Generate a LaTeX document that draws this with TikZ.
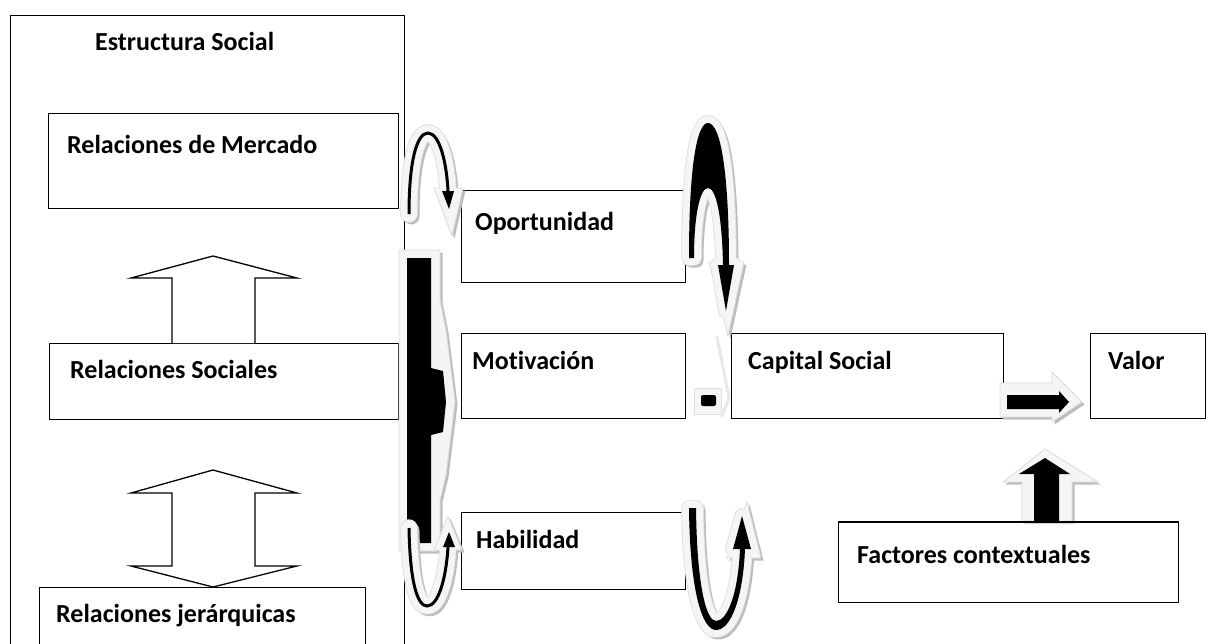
\documentclass[tikz,border=0pt]{standalone}
\usepackage{fontspec}
\setmainfont{Carlito}[Ligatures=NoCommon]
\begin{document}
\begin{tikzpicture}[x=1pt,y=-1pt,
  box/.style={draw=black,line width=1.3pt,fill=white,inner sep=0pt,anchor=north west},
  lbl/.style={font=\bfseries\fontsize{26}{30}\selectfont,anchor=base west,inner sep=0pt},
  outl/.style={draw=black,line width=1.3pt,fill=white,line join=miter},
  shd/.style={black!26,transform canvas={shift={(2.5pt,-2.5pt)}}},
  hedge/.style={black!14},
  hfill/.style={black!4},
  rl/.style={line join=round,line cap=round},
  ]
\useasboundingbox (0,0) rectangle (1216,643);

% ---------- boxes ----------
\node[box,minimum width=394pt,minimum height=700pt] (est) at (10,15) {};
\node[box,minimum width=350pt,minimum height=95pt] (merc) at (48,113) {};
\node[box,minimum width=349pt,minimum height=76pt] (soc) at (49,343) {};
\node[box,minimum width=326pt,minimum height=80pt] (jer) at (39,587) {};
\node[box,minimum width=224pt,minimum height=92pt] (opo) at (461,190) {};
\node[box,minimum width=224pt,minimum height=85pt] (mot) at (461,333) {};
\node[box,minimum width=224pt,minimum height=77pt] (hab) at (461,512) {};
\node[box,minimum width=272pt,minimum height=85pt] (cap) at (731,333) {};
\node[box,minimum width=115pt,minimum height=85pt] (val) at (1090,333) {};
\node[box,minimum width=340pt,minimum height=80pt] (fac) at (838,522) {};

% ---------- labels ----------
\node[lbl] (tEst) at (95,50) {Estructura Social};
\node[lbl] (tMer) at (67,153) {Relaciones de Mercado};
\node[lbl] (tSoc) at (70,378) {Relaciones Sociales};
\node[lbl] (tJer) at (56,622) {Relaciones jerárquicas};
\node[lbl] (tOpo) at (475,230) {Oportunidad};
\node[lbl] (tMot) at (472,369) {Motivación};
\node[lbl] (tHab) at (476,548) {Habilidad};
\node[lbl] (tCap) at (748,369) {Capital Social};
\node[lbl] (tVal) at (1108,369) {Valor};
\node[lbl] (tFac) at (857,563) {Factores contextuales};

% ---------- outline block arrows inside the social structure ----------
\draw[outl] (172,343) -- (172,278) -- (131,278) -- (213,256) -- (297,278) -- (255,278) -- (255,343);
\draw[outl] (172,493) -- (131,493) -- (213,470) -- (297,493) -- (255,493) -- (255,566)
  -- (297,566) -- (213,587) -- (131,566) -- (172,566) -- cycle;

% ---------- black bracket arrow ----------
\newcommand\brkHalo{(399,250) -- (440,250) -- (440,300) -- (446,330) -- (455,402) -- (446,475) -- (440,500) -- (440,551) -- (399,551) -- cycle}
\fill[shd] \brkHalo;
\filldraw[fill=black!4,draw=black!14,line width=0.8pt] \brkHalo;
\fill[black] (407,258) -- (431,258) -- (431,368) -- (443,371) -- (446,402) -- (443,432) -- (431,435) -- (431,543) -- (407,543) -- cycle;

% ---------- thin curved arrow towards Oportunidad ----------
\newcommand\curA{(409,214) .. controls (409,160) and (417,133) .. (428,133) .. controls (440,133) and (447,165) .. (448,192)}
\newcommand\curAhead{(434,188) -- (463,188) -- (452,236) -- cycle}
\draw[shd,line width=16pt,rl] \curA;
\fill[shd] \curAhead;
\draw[hedge,line width=17.5pt,rl] \curA;
\filldraw[fill=black!4,draw=black!14,line width=0.8pt] \curAhead;
\draw[hfill,line width=16pt,rl] \curA;
\draw[black,line width=3pt] \curA;
\fill[black] (442,191) -- (454,191) -- (449,209) -- cycle;

% ---------- thin U arrow towards Habilidad ----------
\newcommand\curC{(409,528) .. controls (410,585) and (418,606) .. (427,606) .. controls (438,606) and (446,580) .. (448,547)}
\newcommand\curChead{(434,550) -- (462,550) -- (448,516) -- cycle}
\draw[shd,line width=16pt,rl] \curC;
\fill[shd] \curChead;
\draw[hedge,line width=17.5pt,rl] \curC;
\filldraw[fill=black!4,draw=black!14,line width=0.8pt] \curChead;
\draw[hfill,line width=16pt,rl] \curC;
\draw[black,line width=3pt] \curC;
\fill[black] (443,547) -- (449,532) -- (455,547) -- cycle;

% ---------- large curved arrow from Oportunidad down to Capital Social ----------
\newcommand\curD{(689,258) .. controls (689,165) and (697,123) .. (708,123) .. controls (721,123) and (729,175) .. (729,265) -- (734,265) -- (726,311) -- (718,265) -- (723,265) .. controls (722,215) and (716,188) .. (708,188) .. controls (700,188) and (694,215) .. (694,258) -- cycle}
\newcommand\curDhead{(709,262) -- (744,262) -- (728,336) -- cycle}
\filldraw[shd,line width=14pt,rl] \curD;
\fill[shd] \curDhead;
\filldraw[hedge,line width=15.5pt,rl] \curD;
\filldraw[fill=black!4,draw=black!14,line width=0.8pt] \curDhead;
\filldraw[hfill,line width=14pt,rl] \curD;
\fill[black] \curD;

% ---------- U arrow from Habilidad up ----------
\newcommand\curE{(689,508) .. controls (690,595) and (703,630) .. (716,630) .. controls (731,630) and (743,598) .. (745,549) -- (751,549) -- (742,516) -- (733,549) -- (740,549) .. controls (738,595) and (727,621) .. (716,621) .. controls (707,621) and (697,590) .. (696,508) -- cycle}
\newcommand\curEhead{(727,558) -- (761,558) -- (747,502) -- cycle}
\filldraw[shd,line width=14pt,rl] \curE;
\fill[shd] \curEhead;
\filldraw[hedge,line width=15.5pt,rl] \curE;
\filldraw[fill=black!4,draw=black!14,line width=0.8pt] \curEhead;
\filldraw[hfill,line width=14pt,rl] \curE;
\fill[black] \curE;

% ---------- small arrow from Motivación to Capital Social ----------
\draw[black!9,line width=3pt,rl] (717,337) -- (729,398) -- (722,416);
\filldraw[fill=black!4,draw=black!12,line width=0.8pt] (694,388) rectangle (721,414);
\fill[black,rounded corners=2pt] (701,395) rectangle (716,406);

% ---------- arrow from Capital Social to Valor ----------
\newcommand\arrG{(1000,383) -- (1052,383) -- (1052,372) -- (1082,402) -- (1052,422) -- (1052,417) -- (1000,417) -- cycle}
\fill[shd] \arrG;
\filldraw[fill=black!4,draw=black!14,line width=0.8pt] \arrG;
\fill[black] (1007,395) -- (1059,395) -- (1059,391) -- (1069,402) -- (1059,413) -- (1059,409) -- (1007,409) -- cycle;

% ---------- arrow from Factores contextuales up to Valor ----------
\newcommand\arrH{(1022,521) -- (1022,482) -- (1003,482) -- (1045,449) -- (1098,482) -- (1072,482) -- (1072,521) -- cycle}
\fill[shd] \arrH;
\filldraw[fill=black!4,draw=black!14,line width=0.8pt] \arrH;
\fill[black] (1034,521) -- (1034,474) -- (1019,474) -- (1045,458) -- (1070,474) -- (1059,474) -- (1059,521) -- cycle;
\draw[line width=1.3pt] (fac.north west) -- (fac.north east);
\end{tikzpicture}
\end{document}
